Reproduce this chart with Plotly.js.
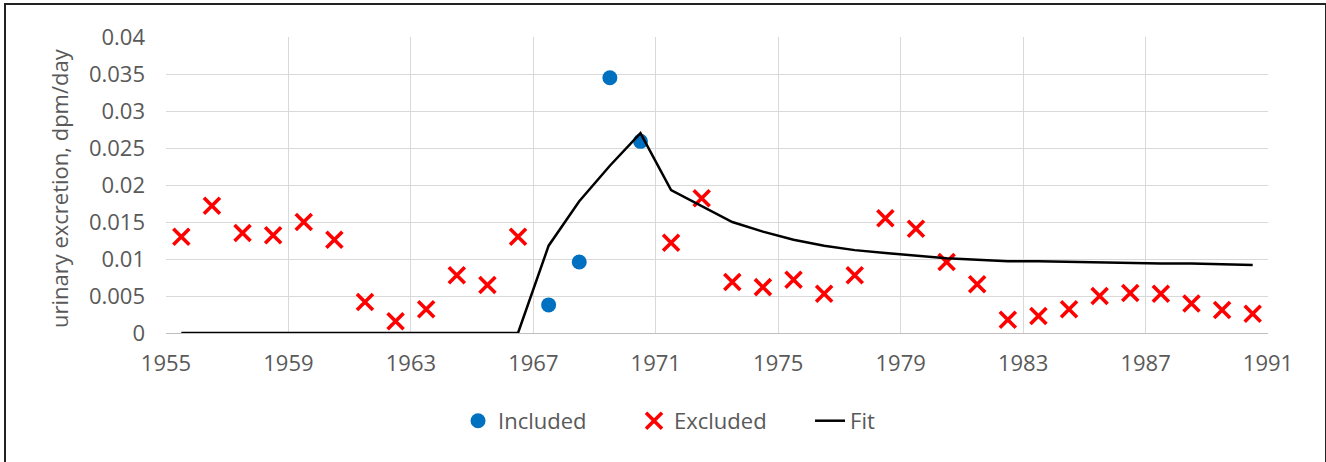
<!DOCTYPE html>
<html>
<head>
<meta charset="utf-8">
<script src="https://cdn.plot.ly/plotly-3.0.1.min.js"></script>
<style>
  html, body { margin: 0; padding: 0; background: #fff; }
  #wrap { position: relative; width: 1326px; height: 462px; overflow: hidden; }
  #chart { width: 1326px; height: 462px; }
  #frame { position: absolute; left: 4px; top: 3px; width: 1319px; height: 470px;
           border: 2px solid #222; box-shadow: 1px 1px 1px #999; pointer-events: none; }
</style>
</head>
<body>
<div id="wrap">
  <div id="chart"></div>
  <div id="frame"></div>
</div>
<script>
// ---- data ----
const includedYears = [1967.5, 1968.5, 1969.5, 1970.5];
const includedValues = [0.0038, 0.0096, 0.0345, 0.0259];

const excludedYears = [1955.5, 1956.5, 1957.5, 1958.5, 1959.5, 1960.5, 1961.5, 1962.5, 1963.5, 1964.5, 1965.5, 1966.5,
  1971.5, 1972.5, 1973.5, 1974.5, 1975.5, 1976.5, 1977.5, 1978.5, 1979.5, 1980.5, 1981.5, 1982.5, 1983.5,
  1984.5, 1985.5, 1986.5, 1987.5, 1988.5, 1989.5, 1990.5];
const excludedValues = [0.0130, 0.0172, 0.0135, 0.0132, 0.0150, 0.0126, 0.0042, 0.0016, 0.0032, 0.0078, 0.0065, 0.0130,
  0.0122, 0.0182, 0.0069, 0.0062, 0.0072, 0.0053, 0.0078, 0.0155, 0.0141, 0.0096, 0.0066, 0.0018, 0.0023,
  0.0032, 0.0050, 0.0054, 0.0053, 0.0040, 0.0031, 0.0026];

const fitYears = [1955.5, 1956.5, 1957.5, 1958.5, 1959.5, 1960.5, 1961.5, 1962.5, 1963.5, 1964.5, 1965.5, 1966.5,
  1967.5, 1968.5, 1969.5, 1970.5, 1971.5, 1972.5, 1973.5, 1974.5, 1975.5, 1976.5, 1977.5, 1978.5, 1979.5,
  1980.5, 1981.5, 1982.5, 1983.5, 1984.5, 1985.5, 1986.5, 1987.5, 1988.5, 1989.5, 1990.5];
const fitValues = [0, 0, 0, 0, 0, 0, 0, 0, 0, 0, 0, 0,
  0.0118, 0.0178, 0.0226, 0.0270, 0.0193, 0.0172, 0.0150, 0.0137, 0.0126, 0.0118, 0.0112, 0.0108, 0.0104,
  0.0101, 0.0099, 0.0097, 0.0097, 0.0096, 0.0096, 0.0095, 0.0094, 0.0094, 0.0093, 0.0092];

const xTickVals = [1955, 1959, 1963, 1967, 1971, 1975, 1979, 1983, 1987, 1991];
const xTickText = ['1955', '1959', '1963', '1967', '1971', '1975', '1979', '1983', '1987', '1991'];
const yTickVals = [0, 0.005, 0.01, 0.015, 0.02, 0.025, 0.03, 0.035, 0.04];
const yTickText = ['0', '0.005', '0.01', '0.015', '0.02', '0.025', '0.03', '0.035', '0.04'];

const yTitle = 'urinary excretion, dpm/day';
// ---- end data ----

const FONT = 'Open Sans, Noto Sans, sans-serif';
const GREY = '#595959';
const FS = 22;

const traces = [
  {
    x: includedYears, y: includedValues, name: 'Included', type: 'scatter', mode: 'markers',
    marker: { color: '#0070C0', size: 15, symbol: 'circle' }
  },
  {
    x: excludedYears, y: excludedValues, name: 'Excluded', type: 'scatter', mode: 'markers',
    marker: { color: '#FF0000', size: 16, symbol: 'x-thin', line: { color: '#FF0000', width: 3.6 } }
  },
  {
    x: fitYears, y: fitValues, name: 'Fit', type: 'scatter', mode: 'lines',
    line: { color: '#000000', width: 2.5 }
  }
];

const layout = {
  width: 1326, height: 462,
  margin: { l: 166, r: 58, t: 37, b: 129 },
  paper_bgcolor: '#ffffff', plot_bgcolor: '#ffffff',
  font: { family: FONT, size: FS, color: GREY },
  showlegend: true,
  legend: {
    orientation: 'h', x: 0.265, xanchor: 'left', y: -0.297, yanchor: 'middle',
    entrywidth: 131, entrywidthmode: 'pixels',
    font: { family: FONT, size: FS, color: GREY },
    traceorder: 'normal'
  },
  xaxis: {
    range: [1955, 1991], tickmode: 'array', tickvals: xTickVals, ticktext: xTickText,
    showgrid: true, gridcolor: '#d9d9d9', gridwidth: 1,
    showline: true, linecolor: '#bfbfbf', linewidth: 1,
    zeroline: false, ticks: '', ticklabelstandoff: 11,
    tickfont: { family: FONT, size: FS, color: GREY }, automargin: false
  },
  yaxis: {
    range: [0, 0.04], tickmode: 'array', tickvals: yTickVals, ticktext: yTickText,
    showgrid: true, gridcolor: '#d9d9d9', gridwidth: 1,
    showline: false, zeroline: false, ticks: '', ticklabelstandoff: 20,
    tickfont: { family: FONT, size: FS, color: GREY }, automargin: false
  },
  annotations: [
    {
      text: yTitle, xref: 'paper', yref: 'paper', x: -0.097, y: 0.49,
      xanchor: 'center', yanchor: 'middle', textangle: -90, showarrow: false,
      font: { family: FONT, size: FS, color: GREY }
    }
  ]
};

Plotly.newPlot('chart', traces, layout, { staticPlot: true, displayModeBar: false });
</script>
</body>
</html>
